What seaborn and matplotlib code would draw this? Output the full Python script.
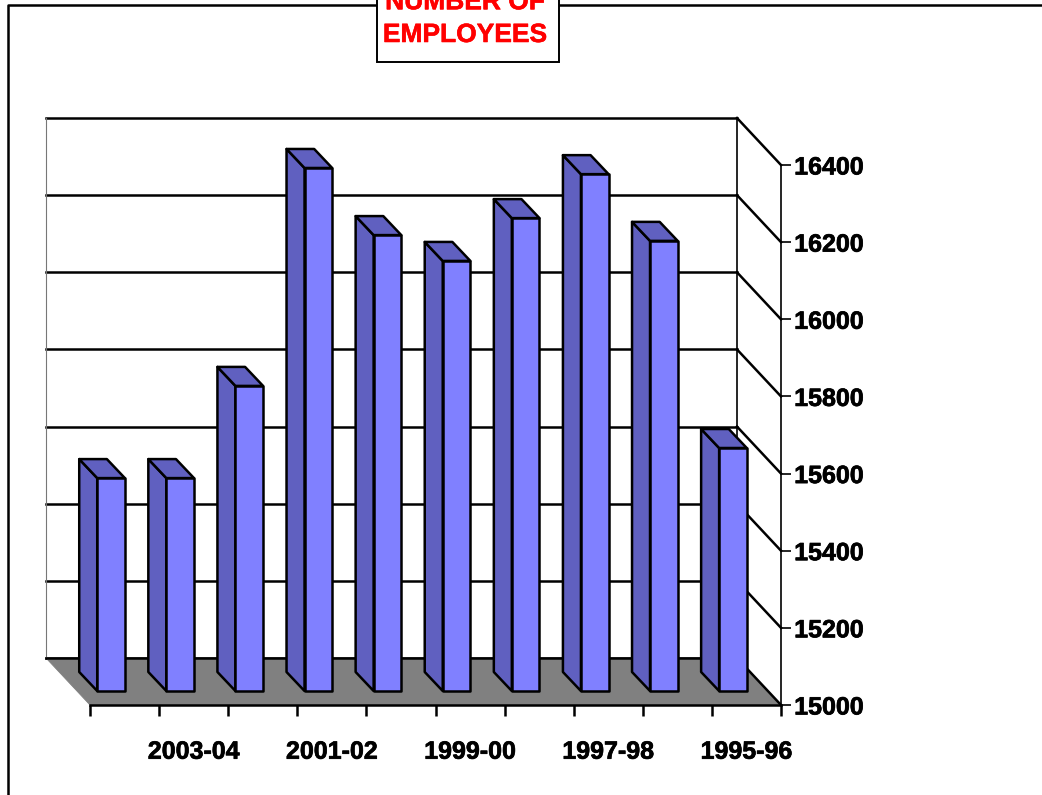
import matplotlib
matplotlib.use("Agg")
import matplotlib.pyplot as plt
import matplotlib.patheffects as pe
import seaborn as sns
import pandas as pd
from matplotlib.lines import Line2D
from matplotlib.patches import Polygon, Rectangle
from matplotlib.transforms import IdentityTransform

years = ['2004-05', '2003-04', '2002-03', '2001-02', '2000-01',
         '1999-00', '1998-99', '1997-98', '1996-97', '1995-96']
employees = [15552, 15552, 15791, 16356, 16182, 16115, 16226, 16340, 16167, 15630]
y_ticks = [15000, 15200, 15400, 15600, 15800, 16000, 16200, 16400]
shown_years = ['2003-04', '2001-02', '1999-00', '1997-98', '1995-96']

W, H = 1042, 795
FRONT = '#8080FF'
SHADE = '#6060C0'
FLOOR = '#808080'
LW = 1.8

sns.set_theme(style='white')
plt.rcParams['font.family'] = ['Liberation Sans', 'DejaVu Sans']
plt.rcParams['font.weight'] = 'bold'

fig = plt.figure(figsize=(W / 100, H / 100), dpi=100, facecolor='white')
ax = fig.add_axes([90 / W, (H - 705) / H, (781 - 90) / W, (705 - 165) / H])

df = pd.DataFrame({'year': years, 'employees': employees})
sns.barplot(data=df, x='year', y='employees', ax=ax, color=FRONT, saturation=1,
            width=0.4, edgecolor='black', linewidth=LW, zorder=5)
ax.set_xlim(-0.5, len(years) - 0.5)
ax.set_ylim(y_ticks[0], y_ticks[-1])
ax.set_xlabel('')
ax.set_ylabel('')
ax.patch.set_alpha(0)
base = y_ticks[0]


def px(x, y, dx=0, dy=0):
    # data point to screen pixels, pushed back by the fake 3d depth
    p = ax.transData.transform((x, y))
    return (p[0] + dx, p[1] + dy)


def line(p, q, lw=LW, color='black', z=2):
    ax.add_line(Line2D([p[0], q[0]], [p[1], q[1]], transform=IdentityTransform(),
                       color=color, lw=lw, zorder=z, clip_on=False,
                       solid_capstyle='projecting'))


def poly(pts, color, z, lw=LW, edge='black'):
    ax.add_patch(Polygon(pts, closed=True, facecolor=color, edgecolor=edge, lw=lw,
                         transform=IdentityTransform(), zorder=z, clip_on=False,
                         joinstyle='round'))


# back wall + side wall
wall = (-44, 47)
x0, x1 = -0.5, len(years) - 0.5
for v in y_ticks:
    line(px(x0, v, *wall), px(x1, v, *wall))
    if v != base:
        line(px(x1, v, *wall), px(x1, v))
line(px(x0, base, *wall), px(x0, y_ticks[-1], *wall), lw=0.8, color='#777777')
line(px(x1, base, *wall), px(x1, y_ticks[-1], *wall), lw=1.2)

# floor
poly([px(x0, base), px(x1, base), px(x1, base, *wall), px(x0, base, *wall)],
     FLOOR, 3, lw=0.6, edge=FLOOR)
line(px(x0, base, *wall), px(x1, base, *wall), z=3.1)
line(px(x1, base, *wall), px(x1, base), z=3.1)
line(px(x0, base), px(x1, base), lw=LW, z=3.1)

# bars: front face moved onto the floor, side and top faces added
front = (-13.5, 14)
depth = (-18, 19)
offset = front[0] + depth[0], front[1] + depth[1]
for bar, v in zip(ax.patches[:len(employees)], employees):
    left = bar.get_x()
    right = left + bar.get_width()
    a = px(left, base, *front)
    b = px(left, v, *front)
    c = px(right, v, *front)
    poly([a, px(left, base, *offset), px(left, v, *offset), b], SHADE, 4)
    poly([b, px(left, v, *offset), px(right, v, *offset), c], SHADE, 4)
    poly([a, b, c, px(right, base, *front)], FRONT, 5)
    bar.set_visible(False)

# axes
for name in ['top', 'left', 'bottom']:
    ax.spines[name].set_visible(False)
ax.spines['right'].set_color('black')
ax.spines['right'].set_linewidth(1.2)
ax.spines['right'].set_zorder(6)

ax.yaxis.tick_right()
ax.set_yticks(y_ticks)
ax.set_yticklabels([str(v) for v in y_ticks])
ax.tick_params(axis='y', right=True, left=False, length=7.5, width=1.2, color='black',
               pad=2, labelsize=18, labelcolor='black')

ax.set_xticks([i - 0.5 for i in range(len(years) + 1)])
ax.set_xticklabels([])
ax.tick_params(axis='x', which='major', bottom=True, length=8, width=LW, color='black')
ax.set_xticks([years.index(y) for y in shown_years], minor=True)
ax.set_xticklabels(shown_years, minor=True)
ax.tick_params(axis='x', which='minor', bottom=False, length=0, pad=25,
               labelsize=18, labelcolor='black')

# labels look heavier in the original
heavy = [pe.withStroke(linewidth=0.5, foreground='black')]
for t in ax.get_yticklabels() + ax.get_xticklabels(minor=True):
    t.set_path_effects(heavy)

# outer chart border, runs off the top right and bottom of the image
fig.add_artist(Line2D([8, 8, W + 5], [-5, H - 5, H - 5], transform=IdentityTransform(),
                      color='black', lw=LW))

# title box cut by the top edge
fig.add_artist(Rectangle((376.5, H - 62), 182.5, 80, transform=IdentityTransform(),
                         facecolor='white', edgecolor='black', lw=1.4, zorder=10))
fig.text(465 / W, (H - 42) / H, 'NUMBER OF\nEMPLOYEES', color='red', fontsize=19, fontweight='bold',
         ha='center', va='baseline', linespacing=1.46, zorder=11,
         path_effects=[pe.withStroke(linewidth=0.4, foreground='red')])

fig.savefig('out.png', dpi=100)
